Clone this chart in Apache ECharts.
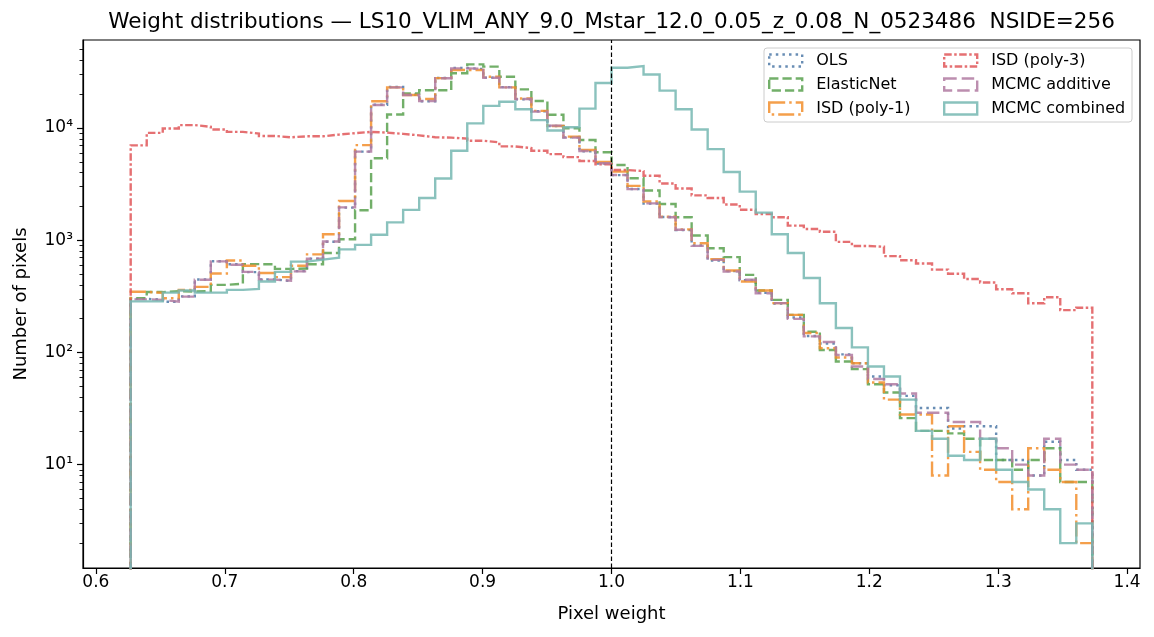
<!DOCTYPE html>
<html>

<head>
  <meta charset="utf-8">
  <title>Weight distributions</title>
  <script src="https://cdn.jsdelivr.net/npm/echarts@6/dist/echarts.min.js"></script>
  <style>
    html, body { margin: 0; padding: 0; background: #fff; }
    #chart { width: 1154px; height: 637px; }
  </style>
</head>

<body>
  <div id="chart"></div>

  <script type="text/javascript">
    // histogram: 60 equal bins between binLo and binHi
    var binLo = 0.627;
    var binHi = 1.373;
    var nBins = 60;

    var seriesNames = ['OLS', 'ElasticNet', 'ISD (poly-1)', 'ISD (poly-3)', 'MCMC additive', 'MCMC combined'];

    // counts per bin
    var olsCounts = [300, 296, 283, 316, 446, 650, 610, 520, 448, 432,
      530, 685, 970, 1950, 6150, 16100, 23200, 19800, 17300, 27900,
      34200, 33500, 28100, 23100, 18000, 14100, 10400, 8250, 6200, 4830,
      3800, 2860, 2120, 1610, 1230, 900, 660, 530, 440, 340,
      272, 205, 140, 120, 96, 80, 61, 51, 41, 32,
      32, 21, 22, 22, 11, 11, 8, 16, 11, 9];
    var elasticCounts = [304, 345, 352, 349, 352, 400, 410, 612, 610, 555,
      560, 610, 770, 1020, 1850, 5370, 13200, 20300, 21700, 21700,
      30700, 36900, 35200, 28600, 22100, 17400, 13100, 9940, 7820, 6080,
      4680, 3560, 2770, 2105, 1600, 1100, 849, 706, 491, 356,
      294, 216, 153, 105, 83, 71, 52, 44, 26, 20,
      20, 19, 17, 11, 11, 9, 11, 14, 7, 7];
    var poly1Counts = [347, 339, 304, 361, 384, 505, 660, 592, 510, 469,
      592, 748, 1130, 2236, 7030, 17300, 23000, 19700, 18100, 27800,
      32900, 32900, 28600, 23000, 18300, 14200, 10400, 8370, 6370, 4980,
      4080, 3050, 2210, 1620, 1250, 940, 678, 537, 428, 356,
      275, 216, 149, 109, 90, 80, 54, 38, 28, 28,
      8, 22, 13, 9, 7, 4, 14, 9, 7, 2];
    var poly3Counts = [7000, 9040, 9900, 10600, 10250, 9700, 9230, 8920, 8490, 8260,
      8430, 8430, 8730, 8990, 9230, 9100, 8860, 8600, 8260, 8200,
      8040, 7700, 7450, 6850, 6620, 6260, 5850, 5500, 5080, 4750,
      4220, 4130, 3750, 3200, 2890, 2510, 2380, 2080, 1870, 1710,
      1600, 1350, 1260, 1190, 966, 888, 875, 722, 663, 620,
      547, 503, 451, 420, 366, 337, 274, 310, 238, 250];
    var mcmcAddCounts = [297, 294, 283, 314, 444, 648, 605, 522, 445, 435,
      527, 683, 975, 1960, 6150, 16000, 23000, 19700, 17400, 27700,
      34000, 33700, 28000, 23000, 18100, 14000, 10500, 8200, 6240, 4850,
      3810, 2850, 2130, 1600, 1240, 890, 668, 526, 444, 337,
      275, 199, 139, 124, 95, 75, 58, 52, 43, 29,
      29, 24, 24, 17, 14, 10, 8, 17, 10, 9];
    var mcmcCombCounts = [285, 285, 341, 356, 341, 341, 361, 368, 428, 522,
      645, 672, 700, 828, 908, 1117, 1443, 1865, 2375, 3550,
      6260, 10990, 15740, 17110, 14680, 11750, 9500, 10160, 14880, 25200,
      34400, 35600, 30000, 21500, 14680, 9700, 6480, 4050, 2710, 1760,
      1130, 770, 460, 274, 165, 111, 75, 61, 38, 20,
      17, 12, 11, 17, 9, 7, 6, 4, 2, 3];

    var xTicks = [0.6, 0.7, 0.8, 0.9, 1.0, 1.1, 1.2, 1.3, 1.4];
    var yTicks = [10, 100, 1000, 10000];
    var yMinorTicks = [2, 3, 4, 5, 6, 7, 8, 9,
      20, 30, 40, 50, 60, 70, 80, 90,
      200, 300, 400, 500, 600, 700, 800, 900,
      2000, 3000, 4000, 5000, 6000, 7000, 8000, 9000,
      20000, 30000, 40000, 50000];
    var refWeight = 1.0;

    // styles
    var font = 'DejaVu Sans';
    var colors = ['#4e79a7', '#59a14f', '#f28e2b', '#e15759', '#b07aa1', '#76b7b2'];
    var dashes = [[2.5, 4.1], [9.25, 4], [16, 4, 2.5, 4], [7.5, 2.5, 2.5, 2.5], [12.5, 5], 'solid'];
    var allCounts = [olsCounts, elasticCounts, poly1Counts, poly3Counts, mcmcAddCounts, mcmcCombCounts];
    var floorVal = 0.5;   // below the axis min, so the outline drops to the bottom edge
    var sup = ['\u2070', '\u00b9', '\u00b2', '\u00b3', '\u2074', '\u2075'];

    function stepData(counts) {
      var w = (binHi - binLo) / nBins;
      var pts = [[binLo, floorVal]];
      for (var i = 0; i < counts.length; i++) {
        pts.push([binLo + i * w, counts[i]]);
      }
      pts.push([binHi, counts[counts.length - 1]]);
      pts.push([binHi, floorVal]);
      return pts;
    }

    var series = [];
    for (var i = 0; i < seriesNames.length; i++) {
      var s = {
        name: seriesNames[i],
        type: 'line',
        step: 'end',
        data: stepData(allCounts[i]),
        showSymbol: false,
        symbol: 'none',
        clip: true,
        silent: true,
        lineStyle: { color: colors[i], width: 2.4, type: dashes[i], opacity: 0.85, cap: 'butt', join: 'miter' },
        itemStyle: { color: colors[i] }
      };
      if (i == 0) {
        s.markLine = {
          silent: true,
          symbol: ['none', 'none'],
          label: { show: false },
          lineStyle: { color: '#000', width: 1.2, type: [4.5, 2.5], opacity: 1 },
          data: [{ xAxis: refWeight }]
        };
      }
      series.push(s);
    }

    function legendItems(from, to) {
      var out = [];
      for (var i = from; i < to; i++) {
        out.push({
          name: seriesNames[i],
          icon: 'rect',
          itemStyle: {
            color: 'rgba(0,0,0,0)',
            borderColor: colors[i],
            borderWidth: 2.4,
            borderType: dashes[i],
            opacity: 0.85
          }
        });
      }
      return out;
    }

    var legendBase = {
      orient: 'vertical',
      top: 51,
      padding: 0,
      itemGap: 5,
      itemWidth: 33,
      itemHeight: 12,
      selectedMode: false,
      textStyle: { fontFamily: font, fontSize: 16, lineHeight: 19, color: '#000', padding: [0, 0, 0, 9] }
    };

    var myChart = echarts.init(document.getElementById('chart'), null, { renderer: 'canvas' });
    myChart.setOption({
      animation: false,
      backgroundColor: '#fff',
      textStyle: { fontFamily: font },
      grid: {
        left: 83, right: 14, top: 40, bottom: 69,
        show: true, borderColor: '#000', borderWidth: 1.2, backgroundColor: 'rgba(0,0,0,0)'
      },
      graphic: [{
        type: 'text',
        x: 611.5, y: 22,
        style: {
          text: 'Weight distributions \u2014 LS10_VLIM_ANY_9.0_Mstar_12.0_0.05_z_0.08_N_0523486  NSIDE=256',
          font: '21.5px "DejaVu Sans"', fill: '#000',
          textAlign: 'center', textVerticalAlign: 'middle'
        }
      }, {
        type: 'rect',
        z: 3,
        shape: { x: 764, y: 48, width: 368, height: 74, r: 3 },
        style: { fill: 'rgba(255,255,255,0.8)', stroke: '#cccccc', lineWidth: 1 }
      }],
      legend: [
        Object.assign({}, legendBase, { left: 768, data: legendItems(0, 3) }),
        Object.assign({}, legendBase, { left: 943, data: legendItems(3, 6) })
      ],
      xAxis: {
        type: 'value',
        min: 0.59, max: 1.41,
        axisLine: { show: true, onZero: false, lineStyle: { color: '#000', width: 1.2 } },
        axisTick: { show: true, length: 6, customValues: xTicks, lineStyle: { color: '#000', width: 1.2 } },
        axisLabel: {
          customValues: xTicks, margin: 6, fontSize: 17, color: '#000', fontFamily: font,
          formatter: function (v) { return v.toFixed(1); }
        },
        splitLine: { show: false },
        name: 'Pixel weight',
        nameLocation: 'middle',
        nameGap: 37,
        nameTextStyle: { fontSize: 18, color: '#000', fontFamily: font }
      },
      yAxis: [{
        type: 'log',
        logBase: 10,
        min: 1.2, max: 60800,
        axisLine: { show: true, lineStyle: { color: '#000', width: 1.2 } },
        axisTick: { show: true, length: 6, customValues: yTicks, lineStyle: { color: '#000', width: 1.2 } },
        axisLabel: {
          customValues: yTicks, margin: 10, fontSize: 17, color: '#000', fontFamily: font,
          formatter: function (v) {
            return '10' + sup[Math.round(Math.log10(v))];
          }
        },
        splitLine: { show: false },
        minorTick: { show: false },
        name: 'Number of pixels',
        nameLocation: 'middle',
        nameGap: 53,
        nameTextStyle: { fontSize: 18, color: '#000', fontFamily: font }
      }, {
        type: 'log',
        logBase: 10,
        min: 1.2, max: 60800,
        position: 'left',
        axisLine: { show: false },
        axisTick: { show: true, length: 3.5, customValues: yMinorTicks, lineStyle: { color: '#000', width: 0.9 } },
        axisLabel: { show: false },
        splitLine: { show: false }
      }],
      series: series
    });
  </script>
</body>

</html>
